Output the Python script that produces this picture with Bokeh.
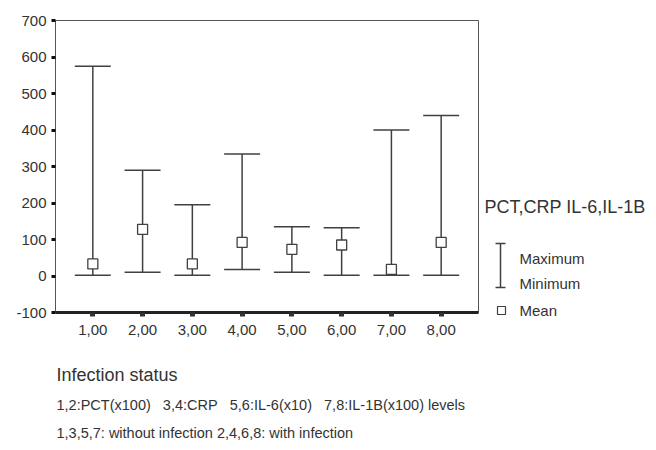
from bokeh.plotting import figure
from bokeh.layouts import row, column
from bokeh.models import Range1d, FixedTicker, ColumnDataSource
from bokeh.core.properties import value
from bokeh.embed import file_html
from bokeh.resources import INLINE

# Data
groups = [1, 2, 3, 4, 5, 6, 7, 8]
tick_labels = ["1,00", "2,00", "3,00", "4,00", "5,00", "6,00", "7,00", "8,00"]
maximum = [575, 290, 195, 334, 135, 132, 400, 440]
minimum = [2, 10, 2, 18, 10, 2, 2, 2]
mean = [33, 128, 33, 92, 73, 85, 18, 92]
y_ticks = [-100, 0, 100, 200, 300, 400, 500, 600, 700]
y_tick_labels = ["-100", "0", "100", "200", "300", "400", "500", "600", "700"]

legend_title = "PCT,CRP IL-6,IL-1B"
legend_labels = ["Maximum", "Minimum", "Mean"]
x_title = "Infection status"
GAP = "\u00a0\u00a0 "
note1 = GAP.join(["1,2:PCT(x100)", "3,4:CRP", "5,6:IL-6(x10)", "7,8:IL-1B(x100) levels"])
note2 = "1,3,5,7: without infection 2,4,6,8: with infection"

FONT = "Liberation Sans"
LINE = "#404040"
TEXT = "#333333"

TOP_H = 345

def blank(fig):
    fig.axis.visible = False
    fig.grid.visible = False
    fig.outline_line_color = None
    fig.background_fill_color = "white"
    fig.border_fill_color = "white"

src = ColumnDataSource(dict(x=groups, hi=maximum, lo=minimum, mean=mean))

p = figure(width=480, height=TOP_H,
           min_border_left=55, min_border_right=2, min_border_top=20,
           min_border_bottom=TOP_H - 312,
           x_range=Range1d(0.25, 8.75), y_range=Range1d(-100, 700),
           output_backend="svg", toolbar_location=None, tools="")
p.frame_align = False
p.background_fill_color = "white"
p.border_fill_color = "white"
p.xgrid.visible = False
p.ygrid.visible = False
p.outline_line_color = "#555555"
p.outline_line_width = 1

p.segment(x0="x", y0="lo", x1="x", y1="hi", source=src, line_color=LINE, line_width=1.5)
p.scatter(x="x", y="hi", source=src, marker="dash", size=36, line_color=LINE, line_width=1.5)
p.scatter(x="x", y="lo", source=src, marker="dash", size=36, line_color=LINE, line_width=1.5)
p.scatter(x="x", y="mean", source=src, marker="square", size=10, fill_color="white",
          line_color=LINE, line_width=1.3)

xa = p.xaxis[0]
xa.ticker = FixedTicker(ticks=groups)
xa.major_label_overrides = {g: t for g, t in zip(groups, tick_labels)}
xa.axis_line_width = 3
xa.axis_line_color = "#222222"
xa.major_tick_in = 0
xa.major_tick_out = 4
xa.major_tick_line_width = 5
xa.major_tick_line_color = "#333333"
xa.minor_tick_line_color = None
xa.major_label_text_font = FONT
xa.major_label_text_font_size = "15px"
xa.major_label_text_color = TEXT
xa.major_label_standoff = 8

ya = p.yaxis[0]
ya.ticker = FixedTicker(ticks=y_ticks)
ya.major_label_overrides = {t: s for t, s in zip(y_ticks, y_tick_labels)}
ya.axis_line_width = 1
ya.axis_line_color = "#555555"
ya.major_tick_in = 0
ya.major_tick_out = 4
ya.major_tick_line_width = 3
ya.major_tick_line_color = "#111111"
ya.minor_tick_line_color = None
ya.major_label_text_font = FONT
ya.major_label_text_font_size = "15px"
ya.major_label_text_color = TEXT
ya.major_label_standoff = 5

# Legend panel at the right (coordinates in page pixels)
leg = figure(width=176, height=TOP_H, min_border=0,
             x_range=Range1d(480, 656), y_range=Range1d(TOP_H, 0),
             output_backend="svg", toolbar_location=None, tools="")
leg.frame_align = False
blank(leg)
leg.text(x=[484], y=[206], text=[legend_title], text_font=value(FONT), text_font_size="18px",
         text_color=TEXT, text_baseline="middle", text_align="left")
leg.text(x=[519, 519, 519], y=[258, 283, 310], text=legend_labels, text_font=value(FONT),
         text_font_size="15px", text_color=TEXT, text_baseline="middle", text_align="left")
leg.segment(x0=[500, 495, 495], y0=[243, 243, 287], x1=[500, 505, 505], y1=[287, 243, 287],
            line_color=LINE, line_width=1.5)
leg.scatter(x=[501], y=[310], marker="square", size=8, fill_color="white",
            line_color=LINE, line_width=1.2)

# Axis title and notes below (coordinates in page pixels)
notes = figure(width=656, height=450 - TOP_H, min_border=0,
               x_range=Range1d(0, 656), y_range=Range1d(450, TOP_H),
               output_backend="svg", toolbar_location=None, tools="")
notes.frame_align = False
blank(notes)
notes.text(x=[56], y=[374], text=[x_title], text_font=value(FONT), text_font_size="18px",
           text_color=TEXT, text_baseline="middle", text_align="left")
notes.text(x=[56, 56], y=[404, 432], text=[note1, note2], text_font=value(FONT),
           text_font_size="14.5px", text_color=TEXT, text_baseline="middle", text_align="left")

layout = column(row(p, leg), notes)
open("out.html", "w").write(file_html(layout, INLINE))
